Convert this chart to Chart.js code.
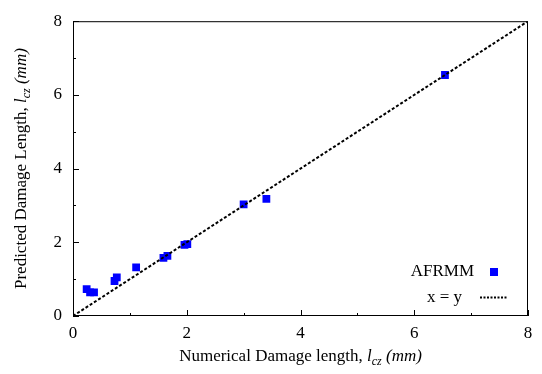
<!DOCTYPE html>
<html>
<head>
<meta charset="utf-8">
<script src="https://cdn.jsdelivr.net/npm/chart.js@4"></script>
<style>
  html, body { margin: 0; padding: 0; background: #fff; }
  #wrap { width: 542px; height: 374px; }
</style>
</head>
<body>
<div id="wrap"><canvas id="damageChart"></canvas></div>
<script>
// values
var numericalLength = [0.24, 0.30, 0.37, 0.73, 0.77, 1.11, 1.59, 1.66, 1.96, 2.01, 3.00, 3.40, 6.54];
var predictedLength = [0.73, 0.64, 0.64, 0.95, 1.05, 1.32, 1.58, 1.63, 1.93, 1.95, 3.03, 3.18, 6.54];
var identityLine = [0, 8];
var tickValues = [0, 2, 4, 6, 8];
var minorTicks = [1, 3, 5, 7];

var serif = "'Liberation Serif', 'Times New Roman', serif";

function drawRich(ctx, parts, x, y) {
  var w = 0;
  parts.forEach(function(p) { ctx.font = p.font; w += ctx.measureText(p.text).width; });
  var cx = x - w / 2;
  parts.forEach(function(p) {
    ctx.font = p.font;
    ctx.fillText(p.text, cx, y + (p.dy || 0));
    cx += ctx.measureText(p.text).width;
  });
}

function titleParts(label) {
  return [
    { text: label + ', ', font: '17px ' + serif },
    { text: 'l', font: 'italic 17px ' + serif },
    { text: 'cz', font: 'italic 12px ' + serif, dy: 4 },
    { text: ' (mm)', font: 'italic 17px ' + serif }
  ];
}

var decorations = {
  id: 'decorations',
  afterDraw: function(chart) {
    var ctx = chart.ctx;
    var a = chart.chartArea;
    var xs = chart.scales.x, ys = chart.scales.y;
    ctx.save();
    ctx.strokeStyle = '#000';
    ctx.lineWidth = 1;
    ctx.strokeRect(a.left + 0.5, a.top + 0.5, a.right - a.left - 1, a.bottom - a.top - 1);

    // inward ticks
    ctx.beginPath();
    tickValues.concat(minorTicks).forEach(function(v) {
      var len = tickValues.indexOf(v) >= 0 ? 6 : 3;
      var px = Math.round(xs.getPixelForValue(v)) + 0.5;
      ctx.moveTo(px, a.bottom); ctx.lineTo(px, a.bottom - len);
      var py = Math.round(ys.getPixelForValue(v)) + 0.5;
      ctx.moveTo(a.left, py); ctx.lineTo(a.left + len, py);
    });
    ctx.stroke();

    // axis titles
    ctx.fillStyle = '#000';
    ctx.textBaseline = 'alphabetic';
    ctx.textAlign = 'left';
    drawRich(ctx, titleParts('Numerical Damage length'), (a.left + a.right) / 2, 361);

    ctx.save();
    ctx.translate(26, (a.top + a.bottom) / 2);
    ctx.rotate(-Math.PI / 2);
    drawRich(ctx, titleParts('Predicted Damage Length'), 0, 0);
    ctx.restore();

    // legend inside the plot, bottom right
    ctx.font = '17px ' + serif;
    ctx.textAlign = 'right';
    ctx.textBaseline = 'middle';
    ctx.fillText('AFRMM', 474, 272);
    ctx.fillText('x = y', 462, 298);
    ctx.fillStyle = '#0000ff';
    ctx.fillRect(490, 268, 8, 8);
    ctx.strokeStyle = '#000';
    ctx.lineWidth = 2;
    ctx.setLineDash([2, 1.5]);
    ctx.beginPath();
    ctx.moveTo(480, 297.5); ctx.lineTo(508, 297.5);
    ctx.stroke();
    ctx.restore();
  }
};

var ctx = document.getElementById('damageChart').getContext('2d');
var damageChart = new Chart(ctx, {
  type: 'scatter',
  data: {
    datasets: [{
      label: 'x = y',
      data: identityLine.map(function(v) { return { x: v, y: v }; }),
      showLine: true,
      borderColor: '#000',
      borderWidth: 2,
      borderDash: [3, 2],
      pointRadius: 0,
      order: 0
    }, {
      label: 'AFRMM',
      data: numericalLength.map(function(v, i) { return { x: v, y: predictedLength[i] }; }),
      pointStyle: 'rect',
      pointRadius: 5.5,
      backgroundColor: '#0000ff',
      borderColor: '#0000ff',
      borderWidth: 0,
      order: 1
    }]
  },
  options: {
    responsive: true,
    maintainAspectRatio: false,
    animation: false,
    layout: { padding: { top: 12, right: 14, left: 0, bottom: 0 } },
    scales: {
      x: {
        type: 'linear',
        min: 0,
        max: 8,
        afterFit: function(scale) { scale.height = 58; },
        afterBuildTicks: function(scale) { scale.ticks = tickValues.map(function(v) { return { value: v }; }); },
        grid: { drawOnChartArea: false, drawTicks: false },
        border: { display: false },
        ticks: { color: '#000', padding: 7, font: { family: serif, size: 17 } }
      },
      y: {
        type: 'linear',
        min: 0,
        max: 8,
        afterFit: function(scale) { scale.width = 73; },
        afterBuildTicks: function(scale) { scale.ticks = tickValues.map(function(v) { return { value: v }; }); },
        grid: { drawOnChartArea: false, drawTicks: false },
        border: { display: false },
        ticks: { color: '#000', padding: 11, font: { family: serif, size: 17 } }
      }
    },
    plugins: {
      legend: { display: false },
      tooltip: { enabled: false }
    }
  },
  plugins: [decorations]
});
</script>
</body>
</html>
